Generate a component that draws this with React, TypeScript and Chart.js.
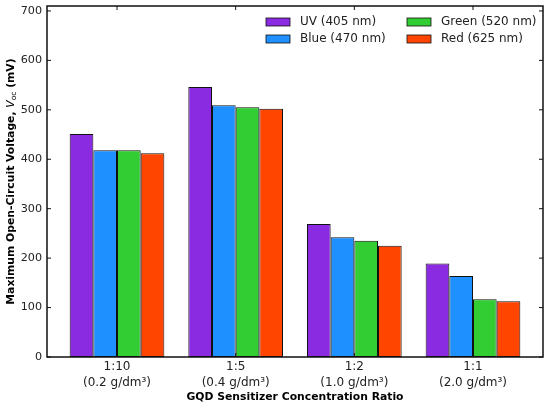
import { useEffect, useRef } from 'react';
import Chart from 'chart.js/auto';

const ratios = ['1:10', '1:5', '1:2', '1:1'];
const concentrations = ['(0.2 g/dm³)', '(0.4 g/dm³)', '(1.0 g/dm³)', '(2.0 g/dm³)'];

const seriesNames = ['UV (405 nm)', 'Blue (470 nm)', 'Green (520 nm)', 'Red (625 nm)'];
const seriesColors = ['#8A2BE2', '#1E90FF', '#32CD32', '#FF4500'];

const uvValues = [451, 546, 269, 189];
const blueValues = [418, 509, 242, 164];
const greenValues = [418, 505, 235, 117];
const redValues = [412, 502, 225, 113];

const yTicks = [0, 100, 200, 300, 400, 500, 600, 700];

const FONT = '"DejaVu Sans", sans-serif';
const TEXT = '#222';

// frame, inward ticks on all sides, legend and axis titles
const decorations = {
  id: 'decorations',
  afterDraw(chart: any) {
    const { ctx, chartArea: a, scales } = chart;
    const x = scales.x;
    const y = scales.y;
    ctx.save();

    // inward tick marks
    ctx.strokeStyle = '#111';
    ctx.lineWidth = 1;
    ctx.beginPath();
    ratios.forEach((_, i) => {
      const px = x.getPixelForValue(i);
      ctx.moveTo(px, a.bottom);
      ctx.lineTo(px, a.bottom - 4);
      ctx.moveTo(px, a.top);
      ctx.lineTo(px, a.top + 4);
    });
    yTicks.forEach((v) => {
      const py = y.getPixelForValue(v);
      ctx.moveTo(a.left, py);
      ctx.lineTo(a.left + 4, py);
      ctx.moveTo(a.right, py);
      ctx.lineTo(a.right - 4, py);
    });
    ctx.stroke();

    // frame
    ctx.lineWidth = 1.5;
    ctx.strokeRect(a.left, a.top, a.right - a.left, a.bottom - a.top);

    // legend, two columns filled top to bottom
    const cols = [266, 407];
    const rows = [22, 39];
    ctx.font = `12px ${FONT}`;
    ctx.textBaseline = 'middle';
    ctx.textAlign = 'left';
    chart.data.datasets.forEach((ds: any, i: number) => {
      const cx = cols[Math.floor(i / 2)];
      const cy = rows[i % 2];
      ctx.fillStyle = ds.backgroundColor;
      ctx.fillRect(cx, cy - 4, 24, 8);
      ctx.lineWidth = 0.8;
      ctx.strokeStyle = '#111';
      ctx.strokeRect(cx, cy - 4, 24, 8);
      ctx.fillStyle = TEXT;
      ctx.fillText(ds.label, cx + 34, cy);
    });

    // x title
    ctx.font = `bold 10.8px ${FONT}`;
    ctx.textAlign = 'center';
    ctx.fillStyle = '#000';
    ctx.fillText('GQD Sensitizer Concentration Ratio', (a.left + a.right) / 2, 397);

    // y title with italic V and subscript oc
    const parts = [
      { t: 'Maximum Open-Circuit Voltage, ', f: `bold 10.8px ${FONT}`, dy: 0 },
      { t: 'V', f: `italic 10.8px ${FONT}`, dy: 0 },
      { t: 'oc', f: `7.5px ${FONT}`, dy: 3 },
      { t: ' (mV)', f: `bold 10.8px ${FONT}`, dy: 0 },
    ];
    const widths = parts.map((p) => {
      ctx.font = p.f;
      return ctx.measureText(p.t).width;
    });
    const total = widths.reduce((s, w) => s + w, 0);
    ctx.translate(11, (a.top + a.bottom) / 2);
    ctx.rotate(-Math.PI / 2);
    ctx.textAlign = 'left';
    let pos = -total / 2;
    parts.forEach((p, i) => {
      ctx.font = p.f;
      ctx.fillText(p.t, pos, p.dy);
      pos += widths[i];
    });

    ctx.restore();
  },
};

export default function App() {
  const canvasRef = useRef<HTMLCanvasElement>(null);
  const chartRef = useRef<Chart | null>(null);

  useEffect(() => {
    if (!canvasRef.current) return;
    if (chartRef.current) chartRef.current.destroy();

    const seriesValues = [uvValues, blueValues, greenValues, redValues];

    chartRef.current = new Chart(canvasRef.current, {
      type: 'bar',
      data: {
        datasets: seriesValues.map((vals, s) => ({
          label: seriesNames[s],
          data: vals.map((v, i) => ({ x: i, y: v })),
          backgroundColor: seriesColors[s],
          borderColor: '#111',
          borderWidth: 1,
          borderSkipped: false,
          categoryPercentage: 0.798,
          barPercentage: 1,
        })),
      },
      options: {
        animation: false,
        responsive: true,
        maintainAspectRatio: false,
        layout: { padding: { top: 6, right: 7, left: 0, bottom: 0 } },
        plugins: {
          legend: { display: false },
          tooltip: { enabled: false },
        },
        scales: {
          x: {
            type: 'linear',
            min: -0.59,
            max: 3.59,
            offset: false,
            grid: { display: false, drawTicks: false },
            border: { display: false },
            afterBuildTicks: (axis: any) => {
              axis.ticks = ratios.map((_, i) => ({ value: i }));
            },
            afterFit: (axis: any) => {
              axis.height = 50;
              axis.paddingLeft = 0;
              axis.paddingRight = 0;
            },
            ticks: {
              padding: 2,
              color: TEXT,
              font: { family: FONT, size: 12, lineHeight: 1.3 },
              maxRotation: 0,
              autoSkip: false,
              callback: (value: any) => {
                const i = Math.round(Number(value));
                return [ratios[i], concentrations[i]];
              },
            },
          },
          y: {
            type: 'linear',
            min: 0,
            max: 710,
            grid: { display: false, drawTicks: false },
            border: { display: false },
            afterBuildTicks: (axis: any) => {
              axis.ticks = yTicks.map((v) => ({ value: v }));
            },
            afterFit: (axis: any) => {
              axis.width = 47;
              axis.paddingTop = 0;
              axis.paddingBottom = 0;
            },
            ticks: {
              padding: 5,
              color: TEXT,
              font: { family: FONT, size: 11.2 },
              callback: (value: any) => String(value),
            },
          },
        },
      },
      plugins: [decorations],
    });

    return () => {
      if (chartRef.current) {
        chartRef.current.destroy();
        chartRef.current = null;
      }
    };
  }, []);

  return (
    <div style={{ position: 'absolute', left: 0, top: 0, width: 550, height: 407, background: '#fff' }}>
      <canvas ref={canvasRef} />
    </div>
  );
}
